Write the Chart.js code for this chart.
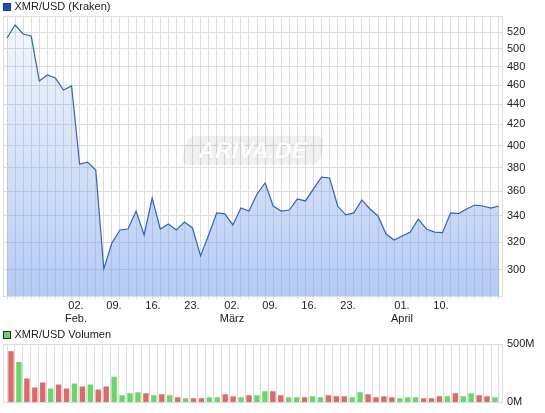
<!DOCTYPE html>
<html>
<head>
<meta charset="utf-8">
<script src="https://cdn.jsdelivr.net/npm/chart.js@4"></script>
<style>
  html, body { margin: 0; padding: 0; background: #fff; }
  #wrap { position: relative; width: 545px; height: 413px; overflow: hidden; }
  .box { position: absolute; left: 0; width: 545px; }
  #priceBox { top: 0; height: 325px; }
  #volBox { top: 325px; height: 88px; }
</style>
</head>
<body>
<div id="wrap">
  <div class="box" id="priceBox"><canvas id="priceChart" width="545" height="325"></canvas></div>
  <div class="box" id="volBox"><canvas id="volChart" width="545" height="88"></canvas></div>
</div>
<script>
/* XMR/USD (Kraken) – price + volume */

const closes = [
  512.8, 528.5, 517.6, 515.2, 464.3, 470.8, 467.5, 454.8, 459.0, 383.3,
  385.0, 378.0, 300.7, 319.3, 329.1, 329.8, 343.8, 325.3, 354.3, 329.8,
  333.7, 329.1, 335.2, 330.6, 309.9, 325.3, 342.3, 341.5, 332.9, 346.2,
  343.8, 357.6, 366.8, 347.8, 343.8, 344.6, 353.5, 351.9, 361.8, 371.9,
  371.1, 347.8, 340.7, 342.3, 352.7, 345.4, 339.9, 326.0, 321.5, 324.5,
  327.5, 337.5, 329.8, 327.5, 327.0, 342.3, 341.8, 345.4, 348.6, 347.8,
  346.2, 347.8,
];

// volume in millions
const volumes = [
  438, 346, 204, 128, 170, 120, 153, 120, 162, 137,
  153, 111, 137, 220,  61,  78,  86,  78,  61,  70,
   61,  44,  36,  36,  36,  44,  44,  70,  53,  44,
   61,  61,  95,  95,  61,  44,  44,  44,  53,  44,
   61,  53,  53,  44,  86,  70,  44,  53,  44,  36,
   44,  44,  36,  36,  53,  53,  78,  53,  78,  61,
   53,  44,
];

// date labels sit between data points
const dateTickPos = [8.55, 13.26, 18.10, 22.93, 27.89, 32.6, 37.44, 42.28, 48.97, 53.81];
const dateTickDay = ['02.', '09.', '16.', '23.', '02.', '09.', '16.', '23.', '01.', '10.'];
const dateTickMon = ['Feb.', '', '', '', 'März', '', '', '', 'April', ''];

const priceTicks  = [300, 320, 340, 360, 380, 400, 420, 440, 460, 480, 500, 520];
const volumeTicks = [0, 500];

const PRICE_MIN = 282.5;
const PRICE_MAX = 539.6;
const VOL_MAX   = 500;

const GRID   = '#dcdcdc';
const TXT    = '#222';
const LINE   = '#2f62c6';
const UP     = '#68d868';
const DOWN   = '#e06a6a';

Chart.defaults.font.family = '"Liberation Sans", Arial, sans-serif';
Chart.defaults.font.size = 11;
Chart.defaults.color = TXT;

const idx = closes.map((_, i) => i);
const X_MIN = -0.5;
const X_MAX = closes.length - 0.5;

const frame = {
  id: 'frame',
  afterDatasetsDraw(chart) {
    const { ctx, chartArea: a } = chart;
    ctx.save();
    ctx.strokeStyle = GRID;
    ctx.lineWidth = 1;
    ctx.strokeRect(Math.round(a.left) + 0.5, Math.round(a.top) + 0.5,
                   Math.round(a.right - a.left) - 1, Math.round(a.bottom - a.top));
    ctx.restore();
  }
};

const header = {
  id: 'header',
  afterDraw(chart, args, opts) {
    const { ctx, chartArea: a } = chart;
    const y = a.top - opts.gap;
    const x = Math.round(a.left);
    ctx.save();
    ctx.fillStyle = opts.color;
    ctx.fillRect(x, Math.round(y) - 4, 8, 8);
    ctx.strokeStyle = opts.border;
    ctx.strokeRect(x + 0.5, Math.round(y) - 3.5, 7, 7);
    ctx.fillStyle = TXT;
    ctx.font = '11px "Liberation Sans", Arial, sans-serif';
    ctx.textBaseline = 'middle';
    ctx.fillText(chart.data.datasets[0].label, x + 11.5, y + 0.5);
    ctx.restore();
  }
};

const watermark = {
  id: 'watermark',
  beforeDatasetsDraw(chart) {
    const { ctx, chartArea: a } = chart;
    const cx = (a.left + a.right) / 2;
    const cy = a.top + a.height * 0.48;
    const w = 138, h = 29, r = 8;
    ctx.save();
    ctx.translate(cx, cy);
    ctx.transform(1, 0, -0.22, 1, 0, 0);
    ctx.beginPath();
    ctx.roundRect(-w / 2, -h / 2, w, h, r);
    ctx.fillStyle = 'rgba(0,0,0,0.06)';
    ctx.fill();
    ctx.font = 'bold 23px "Liberation Sans", Arial, sans-serif';
    ctx.textAlign = 'center';
    ctx.textBaseline = 'middle';
    ctx.lineWidth = 1;
    ctx.strokeStyle = 'rgba(0,0,0,0.05)';
    ctx.strokeText('ARIVA.DE', 0, 1);
    ctx.fillStyle = '#fcfcfc';
    ctx.fillText('ARIVA.DE', 0, 1);
    ctx.restore();
  }
};

function gridAxis(h) {
  return {
    type: 'linear', position: 'bottom', min: X_MIN, max: X_MAX, bounds: 'data',
    afterBuildTicks: s => { s.ticks = idx.map(v => ({ value: v })); },
    afterFit: s => { s.height = h; },
    grid: { color: GRID, drawTicks: h > 0, tickLength: 3 },
    border: { display: false },
    ticks: { display: false },
  };
}

function fillGradient(c) {
  const { chart } = c;
  const a = chart.chartArea;
  if (!a) return 'rgba(120,160,235,0.3)';
  const g = chart.ctx.createLinearGradient(0, a.top, 0, a.bottom);
  g.addColorStop(0, 'rgba(120,160,235,0.07)');
  g.addColorStop(1, 'rgba(120,160,235,0.55)');
  return g;
}

new Chart(document.getElementById('priceChart'), {
  type: 'line',
  data: {
    datasets: [{
      label: 'XMR/USD (Kraken)',
      data: closes.map((v, i) => ({ x: i, y: v })),
      borderColor: LINE,
      borderWidth: 1.2,
      backgroundColor: fillGradient,
      fill: 'start',
      pointRadius: 0,
      tension: 0,
    }]
  },
  options: {
    responsive: false,
    animation: false,
    layout: { padding: { left: 3, top: 16, right: 0, bottom: 0 } },
    plugins: {
      legend: { display: false },
      tooltip: { enabled: false },
      header: { gap: 9.5, color: '#1f4fb8', border: '#173c8c' },
    },
    scales: {
      x: gridAxis(3),
      xl: {
        type: 'linear', position: 'bottom', min: X_MIN, max: X_MAX, bounds: 'data',
        afterBuildTicks: s => { s.ticks = dateTickPos.map(v => ({ value: v })); },
        afterFit: s => { s.height = 26; },
        grid: { display: false, drawTicks: false },
        border: { display: false },
        ticks: {
          autoSkip: false, maxRotation: 0, padding: 0, color: TXT,
          callback: (v, i) => dateTickMon[i] ? [dateTickDay[i], dateTickMon[i]] : dateTickDay[i],
        },
      },
      y: {
        type: 'logarithmic', position: 'right', min: PRICE_MIN, max: PRICE_MAX, bounds: 'data',
        afterBuildTicks: s => { s.ticks = priceTicks.map(v => ({ value: v })); },
        afterFit: s => { s.width = 42; },
        grid: { color: GRID, drawTicks: false },
        border: { display: false },
        ticks: { padding: 4, color: TXT, callback: v => String(v) },
      },
    },
  },
  plugins: [watermark, frame, header],
});

new Chart(document.getElementById('volChart'), {
  type: 'bar',
  data: {
    datasets: [{
      label: 'XMR/USD Volumen',
      data: volumes.map((v, i) => ({ x: i, y: v })),
      backgroundColor: closes.map((v, i) => (i > 0 && v >= closes[i - 1]) ? UP : DOWN),
      borderWidth: 0,
      barPercentage: 1,
      categoryPercentage: 0.68,
    }]
  },
  options: {
    responsive: false,
    animation: false,
    layout: { padding: { left: 3, top: 19, right: 0, bottom: 9.5 } },
    plugins: {
      legend: { display: false },
      tooltip: { enabled: false },
      header: { gap: 9.5, color: '#66d866', border: '#2a2a2a' },
    },
    scales: {
      x: gridAxis(0),
      y: {
        type: 'linear', position: 'right', min: 0, max: VOL_MAX, bounds: 'data',
        afterBuildTicks: s => { s.ticks = volumeTicks.map(v => ({ value: v })); },
        afterFit: s => { s.width = 42; },
        grid: { color: GRID, drawTicks: false },
        border: { display: false },
        ticks: { padding: 4, color: TXT, callback: v => v + 'M' },
      },
    },
  },
  plugins: [frame, header],
});
</script>
</body>
</html>
